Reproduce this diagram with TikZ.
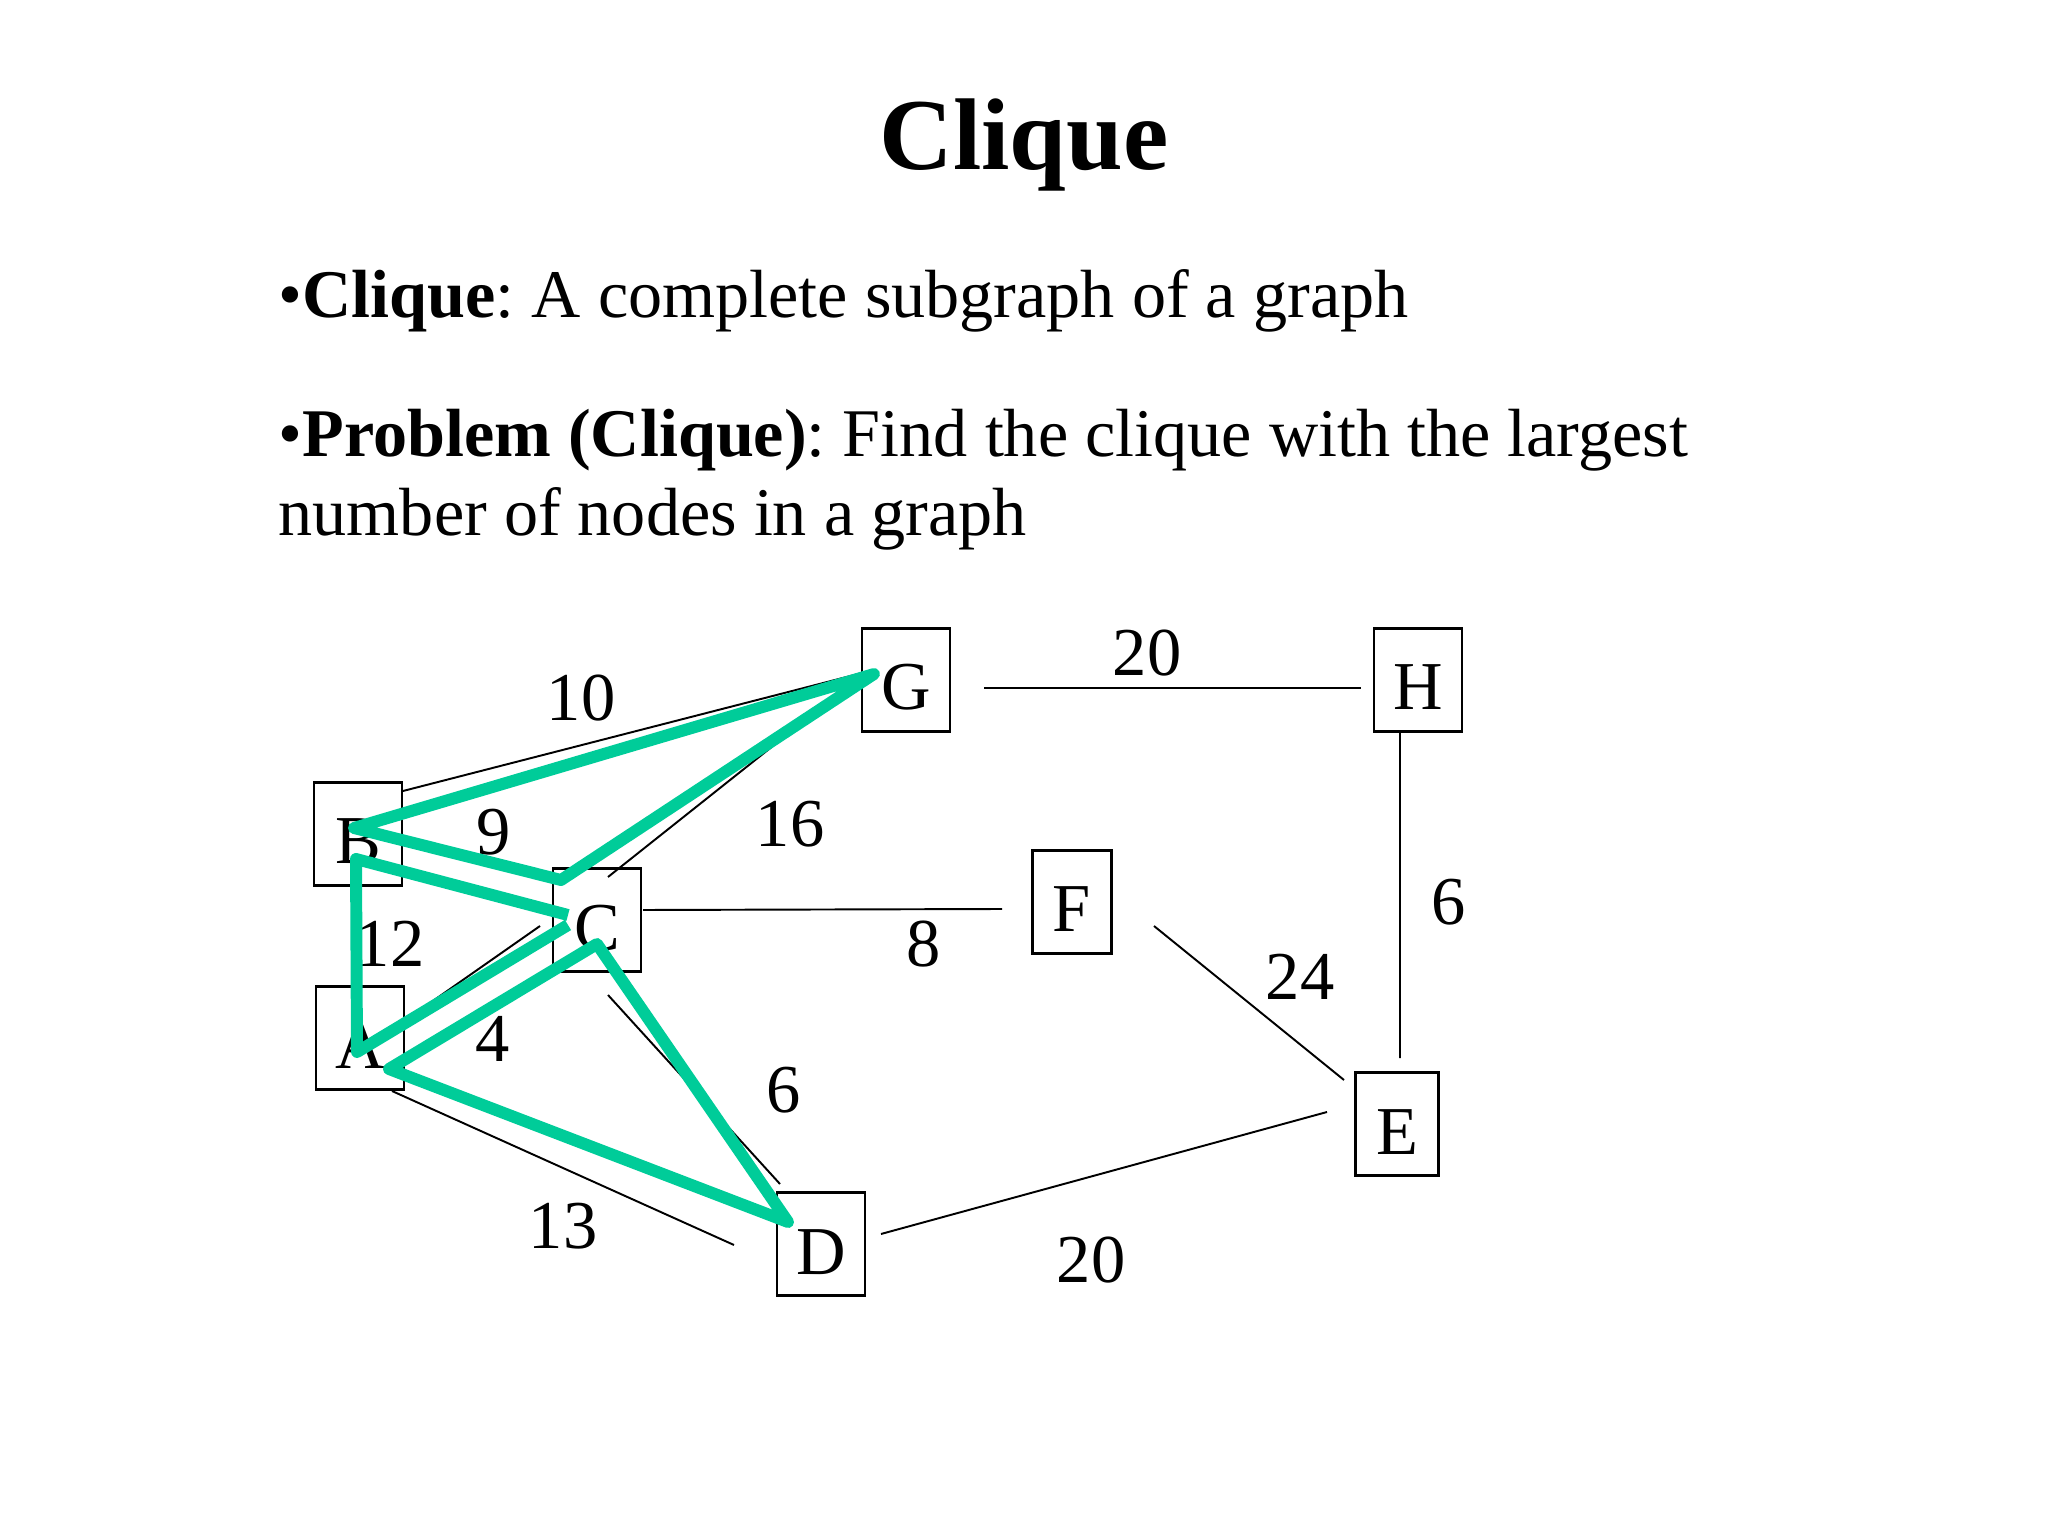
\documentclass[tikz,border=0pt]{standalone}
\usepackage{fontspec}
\setmainfont{Liberation Serif}
\usepackage{xcolor}
\usepackage{tikz}
\usetikzlibrary{calc}
\frenchspacing

\definecolor{cliquegreen}{RGB}{0,204,153}

\begin{document}
\begin{tikzpicture}[
    vertex/.style={draw, line width=0.6pt, minimum width=8.8mm, minimum height=10.3mm,
                   inner sep=0pt, text height=6mm, text depth=0pt,
                   font=\fontsize{19.5}{22}\selectfont},
    edge/.style={draw, line width=0.55pt},
    weight/.style={inner sep=0pt, font=\fontsize{19.5}{22}\selectfont},
    clique/.style={draw=cliquegreen, line width=3.4pt, line join=round},
    bodytext/.style={anchor=base west, inner sep=0pt, font=\fontsize{19.4}{24}\selectfont},
]
\useasboundingbox (0,0) rectangle (20.48,-15.36);

\node[anchor=base, inner sep=0pt, font=\fontsize{29}{34}\selectfont\bfseries] (title) at (10.24,-1.70) {Clique};
\node[bodytext] (def) at (2.78,-3.18) {•\textbf{Clique}: A complete subgraph of a graph};
\node[bodytext] (prob) at (2.78,-4.57) {•\textbf{Problem (Clique)}: Find the clique with the largest};
\node[bodytext] (prob2) at (2.78,-5.35) {number of nodes in a graph};

\node[vertex] (B) at (3.58,-8.34) {B};
\node[vertex] (A) at (3.60,-10.38) {A};
\node[vertex] (C) at (5.97,-9.20) {C};
\node[vertex] (G) at (9.06,-6.80) {G};
\node[vertex] (H) at (14.18,-6.80) {H};
\node[vertex, minimum width=7.9mm] (F) at (10.72,-9.02) {F};
\node[vertex, minimum width=8.3mm] (E) at (13.97,-11.24) {E};
\node[vertex] (D) at (8.21,-12.44) {D};

\draw[edge] ($(B)+(0.45,0.43)$) -- ($(G)+(-0.40,0.08)$);
\draw[edge] ($(C)+(0.11,0.43)$) -- ($(G)+(-0.40,0.08)$);
\draw[edge] ($(C)+(0.46,0.10)$) -- ($(F)+(-0.70,-0.07)$);
\draw[edge] ($(G)+(0.78,-0.08)$) -- ($(H)+(-0.57,-0.08)$);
\draw[edge] ($(H)+(-0.18,-0.52)$) -- ($(E)+(0.03,0.66)$);
\draw[edge] ($(F)+(0.82,-0.24)$) -- ($(E)+(-0.53,0.44)$);
\draw[edge] ($(D)+(0.60,0.10)$) -- ($(E)+(-0.70,0.12)$);
\draw[edge] ($(A)+(0.32,-0.53)$) -- ($(D)+(-0.87,-0.01)$);
\draw[edge] ($(C)+(0.11,-0.75)$) -- ($(D)+(-0.41,0.60)$);
\draw[edge] ($(A)+(0.50,0.21)$) -- ($(C)+(-0.57,-0.06)$);

\node[weight] (wBG) at (5.81,-6.98) {10};
\node[weight] (wBC) at (4.94,-8.32) {9};
\node[weight] (wCG) at (7.90,-8.24) {16};
\node[weight] (wAB) at (3.90,-9.44) {12};
\node[weight] (wAC) at (4.93,-10.39) {4};
\node[weight] (wCF) at (9.24,-9.44) {8};
\node[weight] (wCD) at (7.84,-10.90) {6};
\node[weight] (wAD) at (5.63,-12.26) {13};
\node[weight] (wGH) at (11.47,-6.53) {20};
\node[weight] (wHE) at (14.49,-9.02) {6};
\node[weight] (wFE) at (13.00,-9.77) {24};
\node[weight] (wDE) at (10.91,-12.60) {20};

\coordinate (gG) at ($(G)+(-0.32,0.06)$);
\coordinate (gBu) at ($(B)+(-0.04,0.06)$);
\coordinate (gCu) at ($(C)+(-0.36,0.40)$);
\coordinate (gBl) at ($(B)+(-0.02,-0.25)$);
\coordinate (gCm) at ($(C)+(-0.29,0.05)$);
\coordinate (gA) at ($(A)+(-0.03,-0.14)$);
\coordinate (gCa) at ($(C)+(-0.29,-0.05)$);
\coordinate (gCl) at ($(C)+(0.00,-0.24)$);
\coordinate (gA2) at ($(A)+(0.29,-0.31)$);
\coordinate (gD) at ($(D)+(-0.33,0.22)$);

\draw[clique] (gG) -- (gBu) -- (gCu) -- cycle;
\draw[clique] (gCm) -- (gBl) -- (gA) -- (gCa);
\draw[clique] (gA2) -- (gCl) -- (gD) -- cycle;
\end{tikzpicture}
\end{document}
